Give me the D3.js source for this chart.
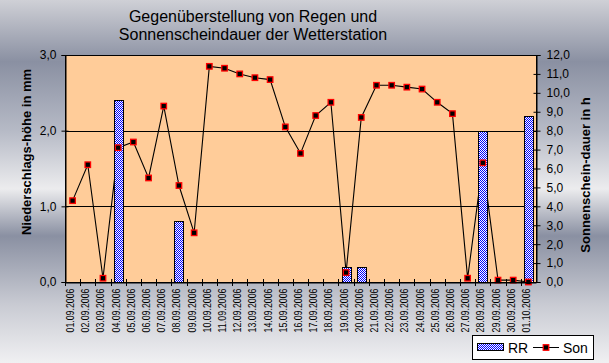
<!DOCTYPE html>
<html>
<head>
<meta charset="utf-8">
<script src="https://cdn.jsdelivr.net/npm/d3@7"></script>
<style>
  body { margin: 0; }
  svg { display: block; font-family: "Liberation Sans", Arial, sans-serif; }
</style>
</head>
<body>
<script>
// data
const dates = ['01.09.2006','02.09.2006','03.09.2006','04.09.2006','05.09.2006','06.09.2006','07.09.2006',
  '08.09.2006','09.09.2006','10.09.2006','11.09.2006','12.09.2006','13.09.2006','14.09.2006','15.09.2006',
  '16.09.2006','17.09.2006','18.09.2006','19.09.2006','20.09.2006','21.09.2006','22.09.2006','23.09.2006',
  '24.09.2006','25.09.2006','26.09.2006','27.09.2006','28.09.2006','29.09.2006','30.09.2006','01.10.2006']
const rr = [0, 0, 0, 2.4, 0, 0, 0, 0.8, 0, 0, 0, 0, 0, 0, 0,
  0, 0, 0, 0.2, 0.2, 0, 0, 0, 0, 0, 0, 0, 2.0, 0, 0, 2.2]
const son = [4.3, 6.2, 0.2, 7.1, 7.4, 5.5, 9.3, 5.1, 2.6, 11.4, 11.3, 11.0, 10.8, 10.7, 8.2,
  6.8, 8.8, 9.5, 0.5, 8.7, 10.4, 10.4, 10.3, 10.2, 9.5, 8.9, 0.2, 6.3, 0.1, 0.1, 0.0]
const leftTicks = [0, 1, 2, 3]
const rightTicks = d3.range(0, 13)
const titleLines = ['Gegenüberstellung von Regen und', 'Sonnenscheindauer der Wetterstation']

const W = 609, H = 363
const plot = { left: 65, right: 536, top: 55, bottom: 282 }
const fmt = d => d.toFixed(1).replace('.', ',')

const svg = d3.select('body').append('svg')
    .attr('width', W)
    .attr('height', H)

const defs = svg.append('defs')

// background gradient
const bg = defs.append('linearGradient')
    .attr('id', 'bg')
    .attr('x1', 0).attr('y1', 0).attr('x2', 0).attr('y2', 1)
const stops = [[0, '#cfd0d6'], [0.17, '#8a90a2'], [0.36, '#b6bac6'], [0.52, '#ececee'],
  [0.65, '#8a90a2'], [0.84, '#c9cbd3'], [1, '#f0f0f2']]
stops.forEach(s => bg.append('stop').attr('offset', s[0]).attr('stop-color', s[1]))

// checkered bar fill
const pat = defs.append('pattern')
    .attr('id', 'checker')
    .attr('width', 2).attr('height', 2)
    .attr('patternUnits', 'userSpaceOnUse')
    .attr('shape-rendering', 'crispEdges')
pat.append('rect').attr('width', 2).attr('height', 2).attr('fill', '#ffffff')
pat.append('rect').attr('width', 1).attr('height', 1).attr('fill', '#0000ff')
pat.append('rect').attr('x', 1).attr('y', 1).attr('width', 1).attr('height', 1).attr('fill', '#0000ff')

svg.append('rect').attr('width', W).attr('height', H).attr('fill', 'url(#bg)')

// scales
const x = d3.scaleBand().domain(dates).range([plot.left, plot.right])
const yL = d3.scaleLinear().domain([0, 3]).range([plot.bottom, plot.top])
const yR = d3.scaleLinear().domain([0, 12]).range([plot.bottom, plot.top])

// plot area
svg.append('rect')
    .attr('x', plot.left).attr('y', plot.top)
    .attr('width', plot.right - plot.left).attr('height', plot.bottom - plot.top)
    .attr('fill', '#ffcc99')

// gridlines
svg.append('g').selectAll('line')
  .data(leftTicks.slice(1))
  .join('line')
    .attr('x1', plot.left).attr('x2', plot.right)
    .attr('y1', d => Math.round(yL(d)) + 0.5).attr('y2', d => Math.round(yL(d)) + 0.5)
    .attr('stroke', '#000')

// Son line (under bars)
const line = d3.line()
    .x((d, i) => x(dates[i]) + x.bandwidth() / 2)
    .y(d => yR(d))
svg.append('path')
    .datum(son)
    .attr('d', line)
    .attr('fill', 'none')
    .attr('stroke', '#000')
    .attr('stroke-width', 1.1)

// RR bars
const barW = 9
svg.append('g').selectAll('rect')
  .data(rr.map((v, i) => ({ d: dates[i], v })).filter(o => o.v > 0))
  .join('rect')
    .attr('x', o => Math.round(x(o.d) + x.bandwidth() / 2 - barW / 2) + 0.5)
    .attr('y', o => Math.round(yL(o.v)) + 0.5)
    .attr('width', barW)
    .attr('height', o => plot.bottom - Math.round(yL(o.v)))
    .attr('fill', 'url(#checker)')
    .attr('stroke', '#000')
    .attr('shape-rendering', 'crispEdges')

// markers
svg.append('g').selectAll('rect')
  .data(son)
  .join('rect')
    .attr('x', (d, i) => x(dates[i]) + x.bandwidth() / 2 - 2.75)
    .attr('y', d => yR(d) - 2.75)
    .attr('width', 5.5).attr('height', 5.5)
    .attr('fill', '#000')
    .attr('stroke', '#ff0000')
    .attr('stroke-width', 1.3)

// axes
const axL = svg.append('g')
    .attr('transform', `translate(${plot.left + 0.5},0)`)
    .call(d3.axisLeft(yL).tickValues(leftTicks).tickFormat(fmt).tickSize(4).tickPadding(5))
const axR = svg.append('g')
    .attr('transform', `translate(${plot.right + 0.5},0)`)
    .call(d3.axisRight(yR).tickValues(rightTicks).tickFormat(fmt).tickSize(4).tickPadding(6))
const axB = svg.append('g')
    .attr('transform', `translate(0,${plot.bottom + 0.5})`)
    .call(d3.axisBottom(x).tickSize(0).tickPadding(0))

for (const ax of [axL, axR, axB]) {
  ax.select('.domain').attr('stroke', '#000')
  ax.selectAll('line').attr('stroke', '#000')
  ax.selectAll('text').attr('fill', '#000').attr('font-size', 12)
    .attr('font-family', '"Liberation Sans", Arial, sans-serif')
}
// cross ticks on the inside
axL.selectAll('.tick line').attr('x1', 3)
axR.selectAll('.tick line').attr('x1', -3)

// x ticks at category boundaries, crossing the axis
svg.append('g').selectAll('line')
  .data(dates)
  .join('line')
    .attr('x1', d => Math.round(x(d)) + 0.5).attr('x2', d => Math.round(x(d)) + 0.5)
    .attr('y1', plot.bottom - 3).attr('y2', plot.bottom + 4)
    .attr('stroke', '#000')

axB.selectAll('.tick text')
    .attr('font-size', 10)
    .attr('text-anchor', 'end')
    .attr('textLength', 44)
    .attr('lengthAdjust', 'spacingAndGlyphs')
    .attr('transform', 'translate(1.5,6) rotate(-90)')
    .attr('dy', 0)
    .attr('y', 0)

// plot border
svg.append('rect')
    .attr('x', plot.left + 0.5).attr('y', plot.top + 0.5)
    .attr('width', plot.right - plot.left).attr('height', plot.bottom - plot.top)
    .attr('fill', 'none')
    .attr('stroke', '#000')

// title
svg.append('text')
    .attr('x', 253).attr('y', 22)
    .attr('text-anchor', 'middle')
    .attr('font-size', 16)
    .attr('fill', '#000')
    .selectAll('tspan')
    .data(titleLines)
    .join('tspan')
      .attr('x', 253)
      .attr('dy', (d, i) => i === 0 ? 0 : 18)
      .text(d => d)

// axis titles
svg.append('text')
    .attr('transform', 'translate(31,152) rotate(-90)')
    .attr('text-anchor', 'middle')
    .attr('font-size', 13)
    .attr('font-weight', 'bold')
    .text('Niederschlags-höhe in mm')
svg.append('text')
    .attr('transform', 'translate(590,175) rotate(-90)')
    .attr('text-anchor', 'middle')
    .attr('font-size', 13)
    .attr('font-weight', 'bold')
    .text('Sonnenschein-dauer in h')

// legend
const lg = svg.append('g').attr('transform', 'translate(472,335)')
lg.append('rect')
    .attr('x', 0.5).attr('y', 0.5)
    .attr('width', 121).attr('height', 24)
    .attr('fill', '#fff').attr('stroke', '#000')
lg.append('rect')
    .attr('x', 5.5).attr('y', 8.5)
    .attr('width', 26).attr('height', 7)
    .attr('fill', 'url(#checker)').attr('stroke', '#000')
    .attr('shape-rendering', 'crispEdges')
lg.append('text')
    .attr('x', 36).attr('y', 18)
    .attr('font-size', 14)
    .text('RR')
lg.append('line')
    .attr('x1', 61).attr('x2', 87)
    .attr('y1', 12.5).attr('y2', 12.5)
    .attr('stroke', '#000')
lg.append('rect')
    .attr('x', 71.25).attr('y', 9.75)
    .attr('width', 5.5).attr('height', 5.5)
    .attr('fill', '#000').attr('stroke', '#ff0000').attr('stroke-width', 1.3)
lg.append('text')
    .attr('x', 91).attr('y', 18)
    .attr('font-size', 14)
    .text('Son')
</script>
</body>
</html>
